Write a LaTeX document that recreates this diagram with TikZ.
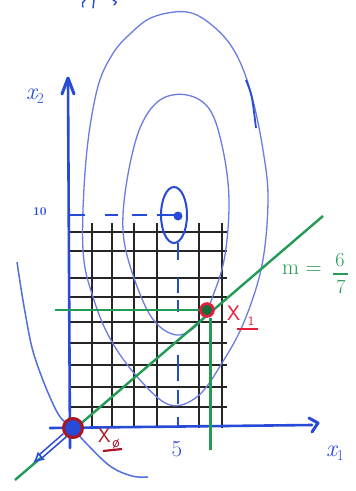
\documentclass[tikz,border=0pt]{standalone}
\usepackage{fontspec}
\usetikzlibrary{arrows.meta}
\definecolor{axisblue}{RGB}{40,75,215}
\definecolor{contblue}{RGB}{105,125,225}
\definecolor{pengreen}{RGB}{35,155,85}
\definecolor{penred}{RGB}{230,30,60}
\definecolor{darkred}{RGB}{170,20,35}
\tikzset{
  axisline/.style={axisblue, line width=2.6pt, line cap=round},
  contour/.style={contblue, line width=1.3pt},
  gridline/.style={black!85, line width=1.8pt},
  greenline/.style={pengreen, line width=2.4pt},
  dashseg/.style={axisblue, line width=2.8pt},
  lbl/.style={inner sep=0pt, font=\fontsize{24}{24}\selectfont\itshape},
}
\newcommand{\axsub}[1]{\raisebox{-0.35ex}{\fontsize{15}{15}\selectfont\upshape #1}}
\begin{document}
\begin{tikzpicture}[x=1pt,y=-1pt]
\useasboundingbox (0,0) rectangle (356,491);
\fill[white] (0,0) rectangle (356,491);

% cut-off text fragments at top
\draw[axisblue, line width=1.4pt, line cap=round] (85,0) .. controls (82,3) .. (83,7);
\draw[axisblue, line width=1.4pt, line cap=round] (94,0) -- (93,8);
\draw[axisblue, line width=1.4pt, line cap=round] (113,0) .. controls (117,2) .. (114,5);

% grid
\foreach \gx in {92,112,134,157,199,222}
  \draw[gridline] (\gx,223) -- (\gx,428);
\foreach \gy in {232,251,278,297,322,343,365,387,407}
  \draw[gridline] (70,\gy) -- (227,\gy);

% contours
\draw[contour] plot[smooth cycle, tension=0.6] coordinates {
  (187,12) (213,26) (235,52) (251,93) (263,150) (268,200) (262,265) (244,322)
  (222,363) (198,396) (170,405) (140,380) (112,342) (94,300) (83,250)
  (86,160) (97,90) (112,55) (130,34) (153,17)};
\draw[axisblue, line width=1.8pt] (246,80) .. controls (252,95) .. (256,128);
\draw[contour] plot[smooth cycle, tension=0.6] coordinates {
  (187,95) (210,110) (223,150) (229,200) (225,255) (214,293) (200,322) (177,335)
  (152,318) (132,272) (123,230) (127,180) (140,128) (160,100)};
\draw[contour, line width=1.5pt, axisblue!80] plot[smooth, tension=0.6] coordinates {
  (17,262) (25,312) (35,358) (57,412) (73,428) (85,442) (110,466) (132,476) (148,477)};
\draw[axisblue, line width=2pt] (174,215) ellipse [x radius=13, y radius=28];

% axes
\coordinate (xs) at (50,428);
\coordinate (xe) at (312,425);
\coordinate (ys) at (70,448);
\coordinate (ye) at (68,80);
\draw[axisline] (xs) -- (xe);
\draw[axisblue, line width=3pt, line cap=round, line join=round] (309,418) -- (318,423) -- (312,432);
\draw[axisline] (ys) -- (ye);
\draw[axisblue, line width=3pt, line cap=round, line join=round] (62,94) -- (68,78) -- (74,94);
\node[lbl, axisblue] (lx2) at (35,96) {x\axsub{2}};
\node[lbl, axisblue] (lx1) at (335,453) {x\axsub{1}};
\node[inner sep=0pt, axisblue, font=\fontsize{12}{12}\selectfont\bfseries] (l10) at (40,212) {10};
\node[inner sep=0pt, axisblue, font=\fontsize{23}{23}\selectfont] (l5) at (177,449) {5};

% dashed guides to the minimum
\coordinate (mn) at (178,216);
\foreach \a/\b in {68/85,105/118,132/147,157/178}
  \draw[dashseg] (\a,215) -- (\b,215);
\foreach \a/\b in {243/260,278/293,300/312,355/381,390/404,417/428}
  \draw[dashseg] (178,\a) -- (178,\b);
\fill[axisblue] (mn) circle (4.5);

% green tangent and projections
\coordinate (gs) at (15,480);
\coordinate (ge) at (323,216);
\draw[greenline] (gs) -- (ge);
\node[circle, draw=penred, line width=2.6pt, fill=pengreen!70!black, minimum size=13pt, inner sep=0pt] (X1) at (207,310) {};
\coordinate (gh) at (55,310);
\coordinate (gv) at (210,450);
\draw[greenline] (gh) -- (X1.west);
\draw[greenline, line width=3pt] (X1.south) ++(3,0) -- (gv);
\node[inner sep=0pt, pengreen, font=\fontsize{22}{22}\selectfont, anchor=west] (slope) at (282,270) {m =};
\node[inner sep=0pt, pengreen, font=\fontsize{20}{20}\selectfont] (num) at (340,260) {6};
\node[inner sep=0pt, pengreen, font=\fontsize{20}{20}\selectfont] (den) at (341,287) {7};
\draw[pengreen, line width=1.4pt] (333,274) -- (348,274);

% start point and descent arrow
\node[circle, draw=darkred, line width=3pt, fill=axisblue, minimum size=19pt, inner sep=0pt] (X0) at (73,428) {};
\coordinate (ar) at (33,463);
\draw[axisblue, line width=1.6pt, double=white, double distance=2.5pt, -{Latex[open, length=11pt, width=11pt]}] (X0) -- (ar);

% labels of points
\node[penred, inner sep=0pt, anchor=west, font=\fontsize{21}{21}\sffamily] (lX1) at (227,313) {X};
\node[penred, inner sep=0pt, font=\fontsize{13}{13}\sffamily] (lX1s) at (251,321) {1};
\draw[penred, line width=2.4pt] (237,329) -- (258,329);
\node[darkred, inner sep=0pt, anchor=west, font=\fontsize{20}{20}\sffamily] (lX0) at (98,436) {X};
\node[darkred, inner sep=0pt, font=\fontsize{15}{15}\sffamily] (lX0s) at (116,444) {ø};
\draw[darkred, line width=2.2pt] (103,451) -- (122,449);
\end{tikzpicture}
\end{document}
